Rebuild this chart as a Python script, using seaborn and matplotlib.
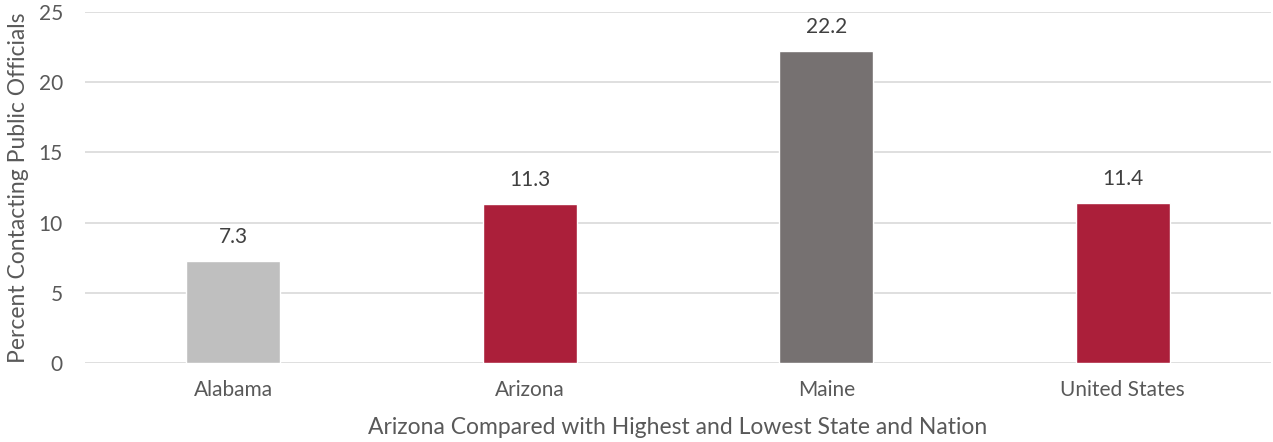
import pandas as pd
import matplotlib.pyplot as plt
import seaborn as sns

states = ["Alabama", "Arizona", "Maine", "United States"]
percent = [7.3, 11.3, 22.2, 11.4]
bar_colors = ["#BFBFBF", "#AB1F3A", "#767171", "#AB1F3A"]

df = pd.DataFrame({"state": states, "percent": percent})

sns.set_style("white")
plt.rcParams["font.family"] = ["Lato", "DejaVu Sans"]
text_col = "#595959"

fig = plt.figure(figsize=(12.73, 4.42), dpi=100)
ax = fig.add_axes([0.0668, 0.1787, 0.9317, 0.7942])

sns.barplot(data=df, x="state", y="percent", hue="state", palette=bar_colors,
            width=0.317, legend=False, ax=ax, saturation=1)

ax.set_ylim(0, 25)
ax.set_yticks([0, 5, 10, 15, 20, 25])
ax.set_xlim(-0.5, 3.5)
ax.yaxis.grid(True, color="#D9D9D9", linewidth=1.2)
ax.set_axisbelow(True)
for s in ax.spines.values():
    s.set_visible(False)
ax.tick_params(axis="both", length=0, labelsize=15, colors=text_col)
ax.tick_params(axis="y", pad=16)
ax.tick_params(axis="x", pad=12)

for i, v in enumerate(percent):
    ax.annotate(f"{v}", (i, v), xytext=(0, 10), textcoords="offset points",
                ha="center", va="bottom", fontsize=15, color="#404040")

ax.set_ylabel("Percent Contacting Public Officials", fontsize=16.5, color=text_col)
ax.yaxis.set_label_coords(-0.0565, 0.5)
ax.yaxis.label.set_va("center")
ax.set_xlabel("Arizona Compared with Highest and Lowest State and Nation", fontsize=16.5,
              color=text_col)
ax.xaxis.set_label_coords(0.5, -0.185)
ax.xaxis.label.set_va("center")

fig.savefig("out.png", dpi=100)
